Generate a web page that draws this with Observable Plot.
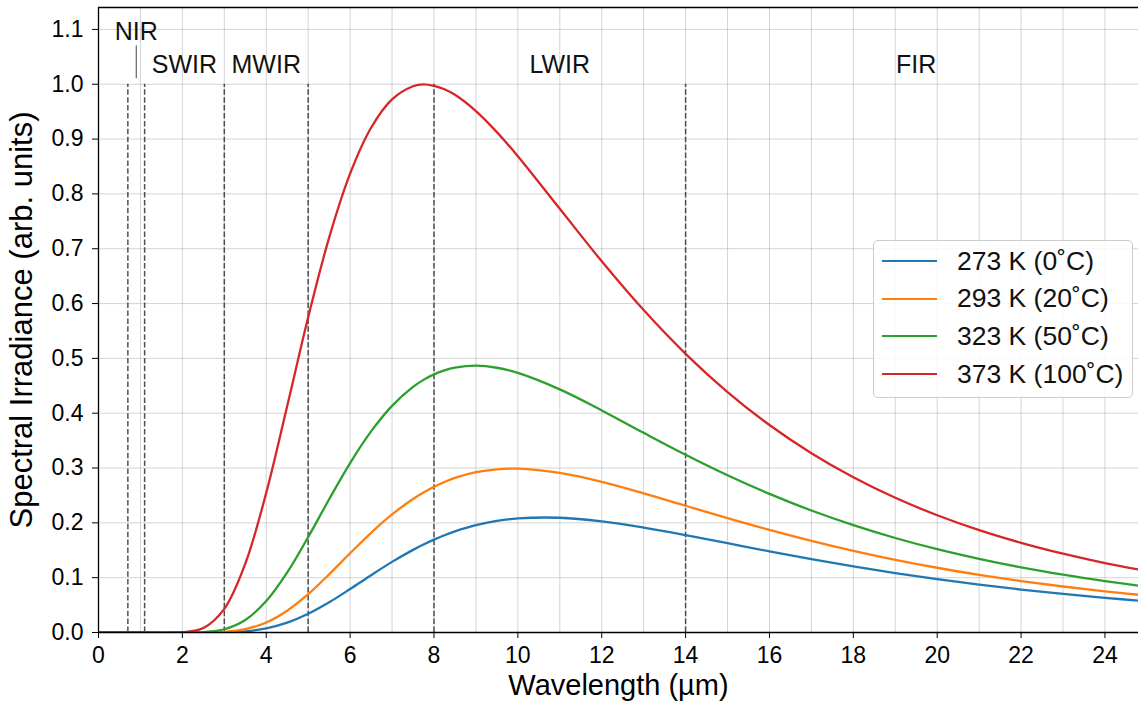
<!DOCTYPE html>
<html>
<head>
<meta charset="utf-8">
<script src="https://cdn.jsdelivr.net/npm/d3@7"></script>
<script src="https://cdn.jsdelivr.net/npm/@observablehq/plot@0.6"></script>
<style>
  body { margin: 0; background: #fff; }
  #wrap { position: relative; width: 1138px; height: 704px; overflow: hidden;
          font-family: "Liberation Sans", Arial, sans-serif; }
  #wrap svg { display: block; }
  [aria-label="x-axis label"] { font-size: 29px; }
  [aria-label="y-axis label"] { font-size: 31px; }
  #legend { position: absolute; left: 873px; top: 240px; width: 260px; height: 158px;
            box-sizing: border-box; border: 1px solid #cccccc; border-radius: 5px;
            background: rgba(255,255,255,0.85); }
  .row { position: absolute; left: 0; height: 30px; display: flex; align-items: center;
         font-size: 26.5px; color: #111; white-space: nowrap; }
  .sw { width: 55px; height: 0; border-top: 2.4px solid; margin-left: 8px; margin-right: 20px; }
</style>
</head>
<body>
<div id="wrap"></div>
<script>
// ---- data ----
const wavelength = [0, 1, 2, 2.5, 3, 3.5, 4, 4.5, 5, 5.5, 6, 6.5, 7, 7.5, 7.75, 8, 8.25, 8.5, 9, 9.5, 10,
                    11, 12, 13, 14, 15, 16, 17, 18, 19, 20, 21, 22, 23, 24, 25];
const t273 = [0, 0, 0, 0, 0.0004, 0.0022, 0.0075, 0.0179, 0.0341, 0.0551, 0.0793, 0.1045, 0.1288, 0.1507, 0.1605, 0.1694, 0.1774, 0.1844, 0.1957, 0.2035, 0.2081,
              0.2093, 0.2028, 0.1914, 0.1776, 0.1628, 0.1480, 0.1337, 0.1204, 0.1082, 0.0972, 0.0872, 0.0783, 0.0704, 0.0633, 0.0570];
const t293 = [0, 0, 0, 0.0001, 0.0013, 0.0062, 0.0183, 0.0398, 0.0699, 0.1061, 0.1445, 0.1818, 0.2153, 0.2436, 0.2554, 0.2658, 0.2746, 0.2819, 0.2923, 0.2977, 0.2988,
              0.2911, 0.2748, 0.2539, 0.2312, 0.2086, 0.1871, 0.1671, 0.1489, 0.1326, 0.1181, 0.1053, 0.0939, 0.0839, 0.0750, 0.0673];
const t323 = [0, 0, 0, 0.0008, 0.0059, 0.0228, 0.0573, 0.1096, 0.1741, 0.2431, 0.3091, 0.3668, 0.4134, 0.4480, 0.4608, 0.4708, 0.4782, 0.4831, 0.4866, 0.4829, 0.4735,
              0.4434, 0.4051, 0.3642, 0.3242, 0.2868, 0.2528, 0.2225, 0.1959, 0.1724, 0.1520, 0.1343, 0.1188, 0.1054, 0.0937, 0.0834];
const t373 = [0, 0, 0.0005, 0.0082, 0.0432, 0.1254, 0.2549, 0.4131, 0.5750, 0.7202, 0.8369, 0.9206, 0.9724, 0.9964, 0.9999, 0.9972, 0.9909, 0.9807, 0.9511, 0.9127, 0.8687,
              0.7729, 0.6772, 0.5881, 0.5083, 0.4386, 0.3785, 0.3270, 0.2831, 0.2457, 0.2139, 0.1868, 0.1636, 0.1438, 0.1267, 0.1121];
const seriesLabels = ["273 K (0˚C)", "293 K (20˚C)", "323 K (50˚C)", "373 K (100˚C)"];
const seriesColors = ["#1f77b4", "#ff7f0e", "#2ca02c", "#d62728"];

const bandBoundaries = [0.7, 1.1, 3, 5, 8, 14];
const bandNames   = ["NIR", "SWIR", "MWIR", "LWIR", "FIR"];
const bandCenters = [0.9, 2.05, 4, 11, 19.5];
const bandLabelY  = [1.095, 1.035, 1.035, 1.035, 1.035];
const nirSeparator = [0.9];

const xTicks = [0, 2, 4, 6, 8, 10, 12, 14, 16, 18, 20, 22, 24];
const xGrid  = d3.range(0, 25, 1);
const yTicks = [0, 0.1, 0.2, 0.3, 0.4, 0.5, 0.6, 0.7, 0.8, 0.9, 1.0, 1.1];

// ---- build table ----
const seriesValues = [t273, t293, t323, t373];
const rows = [];
seriesValues.forEach((vals, i) => wavelength.forEach((w, j) => rows.push({w, v: vals[j], s: seriesLabels[i]})));

const font = '"Liberation Sans", Arial, sans-serif';
const chart = Plot.plot({
  width: 1138, height: 704,
  marginLeft: 98, marginRight: 0, marginTop: 7, marginBottom: 72,
  style: {fontFamily: font, fontSize: "22px", color: "#000", background: "#fff", overflow: "visible"},
  x: {domain: [0, 24.8]},
  y: {domain: [0, 1.14]},
  color: {domain: seriesLabels, range: seriesColors},
  marks: [
    Plot.gridX(xGrid, {stroke: "#b0b0b0", strokeOpacity: 0.55, strokeWidth: 1}),
    Plot.gridY(yTicks, {stroke: "#b0b0b0", strokeOpacity: 0.55, strokeWidth: 1}),
    Plot.ruleX(bandBoundaries, {y1: 0, y2: 1.0, stroke: "#333", strokeOpacity: 0.85, strokeWidth: 1.5, strokeDasharray: "5.5,2.4"}),
    Plot.ruleX(nirSeparator, {y1: 1.01, y2: 1.07, stroke: "#444", strokeWidth: 1}),
    Plot.text(bandNames, {x: (d, i) => bandCenters[i], y: (d, i) => bandLabelY[i], text: d => d, fontSize: 25, fill: "#111"}),
    Plot.line(rows, {x: "w", y: "v", z: "s", stroke: "s", strokeWidth: 2.3, curve: "catmull-rom", clip: true}),
    Plot.axisX({ticks: xTicks, tickSize: 6, tickPadding: 8, fontSize: 23,
                label: "Wavelength (µm)", labelAnchor: "center", labelArrow: "none", labelOffset: 62}),
    Plot.axisY({ticks: yTicks, tickFormat: d3.format(".1f"), tickSize: 6, tickPadding: 9, fontSize: 23,
                label: "Spectral Irradiance (arb. units)", labelAnchor: "center", labelArrow: "none", labelOffset: 89}),
    Plot.ruleY([0], {stroke: "#000", strokeWidth: 1.3}),
    Plot.ruleY([1.14], {stroke: "#000", strokeWidth: 1.3}),
    Plot.ruleX([0], {stroke: "#000", strokeWidth: 1.3})
  ]
});
const wrap = document.getElementById("wrap");
wrap.appendChild(chart);

// legend overlay
const legend = document.createElement("div");
legend.id = "legend";
seriesLabels.forEach((lab, i) => {
  const r = document.createElement("div");
  r.className = "row";
  r.style.top = (5 + i * 37.7) + "px";
  const sw = document.createElement("div");
  sw.className = "sw";
  sw.style.borderTopColor = seriesColors[i];
  const tx = document.createElement("span");
  tx.textContent = lab;
  r.appendChild(sw); r.appendChild(tx);
  legend.appendChild(r);
});
wrap.appendChild(legend);
</script>
</body>
</html>
